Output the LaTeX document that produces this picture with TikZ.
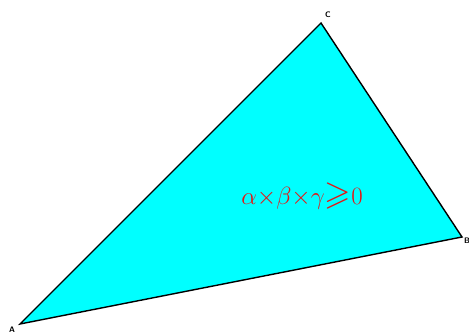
\documentclass[tikz,border=0pt]{standalone}
\usepackage{amssymb}
\definecolor{aqua}{RGB}{0,255,255}
\definecolor{redtxt}{RGB}{230,20,20}
\begin{document}
\begin{tikzpicture}[x=1pt,y=-1pt,
  lbl/.style={font=\sffamily\bfseries\fontsize{8}{9}\selectfont, inner sep=0pt}]
\useasboundingbox (0,0) rectangle (469,332);
\coordinate (A) at (20,324);
\coordinate (C) at (321,23);
\coordinate (B) at (462,237);
\fill[aqua] (A) -- (C) -- (B) -- cycle;
\draw[line width=1.4pt, line join=miter] (A) -- (C) -- (B) -- cycle;
\node[lbl] (la) at (12,330) {A};
\node[lbl] (lc) at (328,15) {C};
\node[lbl] (lb) at (467,241) {B};
\node[text=redtxt, font=\fontsize{34}{38}\selectfont, inner sep=0pt] (f) at (302,196) {$\alpha{\times}\beta{\times}\gamma{\geqslant}0$};
\end{tikzpicture}
\end{document}
